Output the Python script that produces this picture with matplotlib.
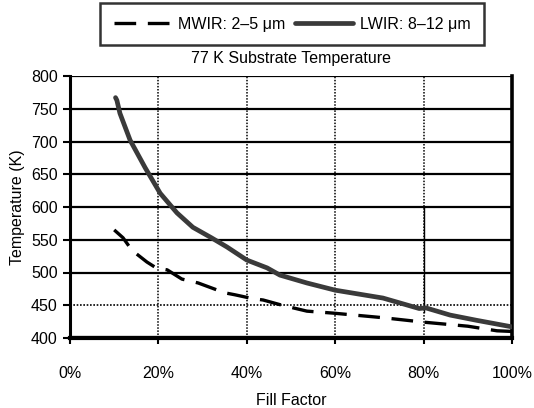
import matplotlib
matplotlib.use("Agg")
import matplotlib.pyplot as plt
from matplotlib.ticker import FuncFormatter

# values
fill_lwir = [10.3, 10.6, 11.3, 13.6, 17, 20.4, 24.2, 27.8, 32, 35.5, 40, 44.6, 47.5,
             53.6, 60, 70.8, 79, 80.5, 86, 92, 100]
temp_lwir = [767, 763, 743, 702, 660, 621, 591, 569, 553, 539, 519, 507, 496,
             484, 473, 461, 445, 446, 435, 427, 417]

fill_mwir = [10, 12, 14, 17.4, 19.5, 22, 25.3, 29, 31, 35, 37.3, 41.4, 43.7, 48,
             53.6, 59.5, 70.8, 80.3, 90, 96.6, 100]
temp_mwir = [565, 553, 534, 516, 507, 504, 490, 484, 479, 469, 466, 460, 458, 450,
             441, 438, 431, 424, 418, 411, 410]

x_ticks = [0, 20, 40, 60, 80, 100]
y_ticks = [400, 450, 500, 550, 600, 650, 700, 750, 800]

plt.rcParams["font.family"] = ["Liberation Sans", "DejaVu Sans"]
plt.rcParams["font.size"] = 11.5

fig = plt.figure(figsize=(5.34, 4.08), dpi=100)
ax = fig.add_axes([70 / 534, 1 - 338 / 408, 442 / 534, 262 / 408])

# gridlines: solid black except 450 (dotted) and the bottom line
for y in y_ticks[2:]:
    ax.axhline(y, color="black", lw=1.6, zorder=1)
ax.axhline(450, color="black", lw=1.2, ls=(0, (1, 1)), zorder=1)
ax.axhline(400, color="black", lw=3, zorder=1)
for x in x_ticks[1:-1]:
    ax.axvline(x, color="black", lw=1.1, ls=(0, (1, 1)), zorder=1)
ax.axvline(80, ymin=0.1, ymax=0.5, color="black", lw=1.0, zorder=1)

mw, = ax.plot(fill_mwir, temp_mwir, color="black", lw=2.4, ls=(0, (6.5, 3.5)),
              solid_capstyle="butt", zorder=3, label="MWIR: 2\u20135 \u03bcm")
lw_, = ax.plot(fill_lwir, temp_lwir, color="#3a3a3a", lw=3.4, zorder=3,
               solid_capstyle="round", label="LWIR: 8\u201312 \u03bcm")

ax.set_xlim(0, 100)
ax.set_ylim(400, 800)
ax.set_xticks(x_ticks)
ax.set_yticks(y_ticks)
ax.xaxis.set_major_formatter(FuncFormatter(lambda v, p: f"{v:.0f}%"))
ax.tick_params(axis="both", direction="out", length=5, width=1.5, colors="black")
ax.tick_params(axis="x", pad=16, length=4)
ax.tick_params(axis="y", pad=4)

ax.spines["top"].set_visible(False)
ax.spines["left"].set_linewidth(2.2)
ax.spines["right"].set_linewidth(2.6)
ax.spines["bottom"].set_linewidth(3)

ax.set_title("77 K Substrate Temperature", fontsize=11.5, pad=9)
ax.set_xlabel("Fill Factor", labelpad=9)
ax.set_ylabel("Temperature (K)", labelpad=4)

leg = fig.legend(handles=[mw, lw_], loc="upper left", ncol=2,
                 bbox_to_anchor=(100 / 534, 1 - 3 / 408), borderaxespad=0,
                 frameon=True, fancybox=False, edgecolor="black",
                 handlelength=3.6, columnspacing=0.6, handletextpad=0.45,
                 borderpad=0.85)
leg.get_frame().set_linewidth(1.8)

fig.savefig("out.png", dpi=100)
